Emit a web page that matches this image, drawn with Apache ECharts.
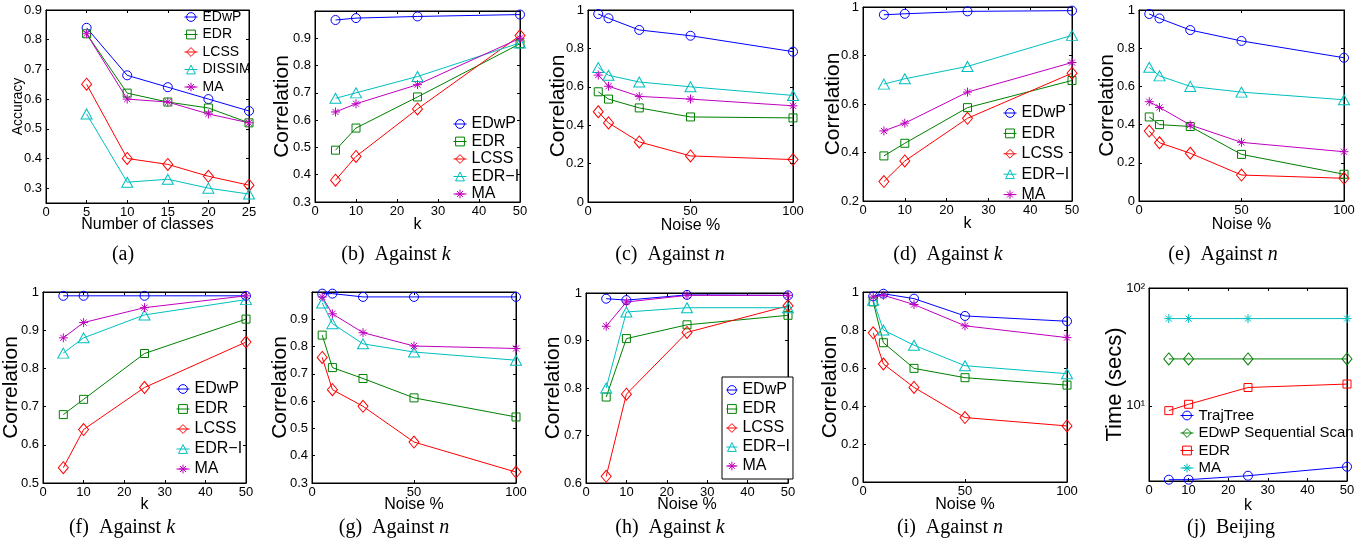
<!DOCTYPE html>
<html><head><meta charset="utf-8">
<script src="https://cdn.jsdelivr.net/npm/echarts@6/dist/echarts.min.js"></script>
<style>html,body{margin:0;padding:0;background:#fff}#c{width:1372px;height:548px}</style>
</head><body><div id="c"></div>
<script>
// ---------- x values ----------
const classCounts = [5, 10, 15, 20, 25];
const kValues = [5, 10, 25, 50];
const noiseValues = [5, 10, 25, 50, 100];

// ---------- tick labels ----------
const ticksX25 = [0, 5, 10, 15, 20, 25];
const ticksX50 = [0, 10, 20, 30, 40, 50];
const ticksX100 = [0, 50, 100];
const ticksYa = [0.3, 0.4, 0.5, 0.6, 0.7, 0.8, 0.9];
const ticksY03 = [0.3, 0.4, 0.5, 0.6, 0.7, 0.8, 0.9];
const ticksY0 = [0, 0.2, 0.4, 0.6, 0.8, 1];
const ticksY02 = [0.2, 0.4, 0.6, 0.8, 1];
const ticksY05 = [0.5, 0.6, 0.7, 0.8, 0.9, 1];
const ticksY06 = [0.6, 0.7, 0.8, 0.9, 1];

// ---------- (a) accuracy vs number of classes ----------
const a_EDwP = [0.84, 0.68, 0.64, 0.60, 0.56];
const a_EDR = [0.82, 0.62, 0.59, 0.57, 0.52];
const a_LCSS = [0.65, 0.40, 0.38, 0.34, 0.31];
const a_DISSIM = [0.55, 0.32, 0.33, 0.30, 0.28];
const a_MA = [0.82, 0.60, 0.59, 0.55, 0.52];
// ---------- (b) ----------
const b_EDwP = [0.967, 0.974, 0.980, 0.987];
const b_EDR = [0.49, 0.571, 0.685, 0.88];
const b_LCSS = [0.38, 0.467, 0.641, 0.91];
const b_EDRI = [0.68, 0.70, 0.76, 0.883];
const b_MA = [0.63, 0.66, 0.73, 0.90];
// ---------- (c) ----------
const c_EDwP = [0.979, 0.957, 0.896, 0.866, 0.783];
const c_EDR = [0.574, 0.536, 0.49, 0.443, 0.438];
const c_LCSS = [0.47, 0.412, 0.313, 0.24, 0.221];
const c_EDRI = [0.70, 0.66, 0.625, 0.60, 0.555];
const c_MA = [0.661, 0.603, 0.55, 0.536, 0.501];
// ---------- (d) ----------
const d_EDwP = [0.968, 0.972, 0.982, 0.985];
const d_EDR = [0.386, 0.438, 0.585, 0.697];
const d_LCSS = [0.28, 0.365, 0.541, 0.727];
const d_EDRI = [0.682, 0.704, 0.755, 0.883];
const d_MA = [0.489, 0.521, 0.649, 0.771];
// ---------- (e) ----------
const e_EDwP = [0.979, 0.956, 0.895, 0.838, 0.75];
const e_EDR = [0.44, 0.40, 0.39, 0.244, 0.14];
const e_LCSS = [0.366, 0.305, 0.25, 0.136, 0.119];
const e_EDRI = [0.70, 0.655, 0.60, 0.57, 0.53];
const e_MA = [0.52, 0.49, 0.398, 0.307, 0.258];
// ---------- (f) ----------
const f_EDwP = [0.99, 0.99, 0.99, 0.99];
const f_EDR = [0.679, 0.719, 0.839, 0.929];
const f_LCSS = [0.54, 0.64, 0.75, 0.869];
const f_EDRI = [0.84, 0.88, 0.94, 0.98];
const f_MA = [0.88, 0.92, 0.959, 0.99];
// ---------- (g) ----------
const g_EDwP = [0.994, 0.994, 0.982, 0.982, 0.982];
const g_EDR = [0.842, 0.723, 0.683, 0.612, 0.542];
const g_LCSS = [0.76, 0.642, 0.581, 0.45, 0.34];
const g_EDRI = [0.96, 0.884, 0.81, 0.78, 0.75];
const g_MA = [0.982, 0.92, 0.851, 0.802, 0.793];
// ---------- (h) ----------
const h_EDwP = [0.988, 0.985, 0.996, 0.995];
const h_EDR = [0.781, 0.904, 0.933, 0.953];
const h_LCSS = [0.614, 0.787, 0.917, 0.973];
const h_EDRI = [0.80, 0.96, 0.969, 0.969];
const h_MA = [0.93, 0.981, 0.995, 0.995];
// ---------- (i) ----------
const i_EDwP = [0.977, 0.991, 0.965, 0.874, 0.846];
const i_EDR = [0.948, 0.733, 0.598, 0.549, 0.51];
const i_LCSS = [0.785, 0.621, 0.498, 0.339, 0.295];
const i_EDRI = [0.956, 0.80, 0.72, 0.612, 0.57];
const i_MA = [0.974, 0.983, 0.934, 0.822, 0.76];
// ---------- (j) time (secs), log scale ----------
const j_TrajTree = [2.36, 2.36, 2.55, 3.04];
const j_EDwPScan = [25, 25, 25, 25];
const j_EDR = [9.1, 10.3, 14.3, 15.3];
const j_MA = [55, 55, 55, 55];

// ---------- styling ----------
const FONT = '"Liberation Sans", Arial, Helvetica, sans-serif';
const SERIF = '"Liberation Serif", "Times New Roman", serif';
const COL = { blue: '#0000ff', green: '#008000', red: '#ff0000', cyan: '#00bfbf', magenta: '#bf00bf' };
const STAR = 'path://M5,0L5,10M0,5L10,5M1.6,1.6L8.4,8.4M1.6,8.4L8.4,1.6';
const SYM = {
  circle: { symbol: 'circle', size: 9 },
  square: { symbol: 'rect', size: 8 },
  diamond: { symbol: 'diamond', size: [10, 12] },
  triangle: { symbol: 'triangle', size: [11, 10] },
  star: { symbol: STAR, size: 9 }
};

const panels = [
  { grid: [46, 10, 249, 203], xr: [0, 25], xt: ticksX25, yr: [0.25, 0.9], yt: ticksYa,
    yName: 'Accuracy', yFs: 14, yGap: 21, xName: 'Number of classes', xGap: 14,
    xs: classCounts,
    ser: [['EDwP', a_EDwP, 'blue', 'circle'], ['EDR', a_EDR, 'green', 'square'], ['LCSS', a_LCSS, 'red', 'diamond'], ['DISSIM', a_DISSIM, 'cyan', 'triangle'], ['MA', a_MA, 'magenta', 'star']] },
  { grid: [315, 11, 520, 202], xr: [0, 50], xt: ticksX50, yr: [0.3, 1.0], yt: ticksY03,
    yName: 'Correlation', yFs: 21, yGap: 22, xName: 'k', xGap: 15, xs: kValues,
    ser: [['EDwP', b_EDwP, 'blue', 'circle'], ['EDR', b_EDR, 'green', 'square'], ['LCSS', b_LCSS, 'red', 'diamond'], ['EDR\u2212I', b_EDRI, 'cyan', 'triangle'], ['MA', b_MA, 'magenta', 'star']] },
  { grid: [588, 10, 793, 202], xr: [0, 100], xt: ticksX100, yr: [0, 1], yt: ticksY0,
    yName: 'Correlation', yFs: 21, yGap: 19, xName: 'Noise %', xGap: 16, xs: noiseValues,
    ser: [['EDwP', c_EDwP, 'blue', 'circle'], ['EDR', c_EDR, 'green', 'square'], ['LCSS', c_LCSS, 'red', 'diamond'], ['EDR\u2212I', c_EDRI, 'cyan', 'triangle'], ['MA', c_MA, 'magenta', 'star']] },
  { grid: [863, 7, 1072, 201], xr: [0, 50], xt: ticksX50, yr: [0.2, 1], yt: ticksY02,
    yName: 'Correlation', yFs: 21, yGap: 19, xName: 'k', xGap: 15, xs: kValues,
    ser: [['EDwP', d_EDwP, 'blue', 'circle'], ['EDR', d_EDR, 'green', 'square'], ['LCSS', d_LCSS, 'red', 'diamond'], ['EDR\u2212I', d_EDRI, 'cyan', 'triangle'], ['MA', d_MA, 'magenta', 'star']] },
  { grid: [1139, 10, 1344, 201], xr: [0, 100], xt: ticksX100, yr: [0, 1], yt: ticksY0,
    yName: 'Correlation', yFs: 21, yGap: 21, xName: 'Noise %', xGap: 16, xs: noiseValues,
    ser: [['EDwP', e_EDwP, 'blue', 'circle'], ['EDR', e_EDR, 'green', 'square'], ['LCSS', e_LCSS, 'red', 'diamond'], ['EDR\u2212I', e_EDRI, 'cyan', 'triangle'], ['MA', e_MA, 'magenta', 'star']] },
  { grid: [42, 292, 246, 483], xr: [0, 50], xt: ticksX50, yr: [0.5, 1], yt: ticksY05,
    yName: 'Correlation', yFs: 21, yGap: 21, xName: 'k', xGap: 14, xs: kValues,
    ser: [['EDwP', f_EDwP, 'blue', 'circle'], ['EDR', f_EDR, 'green', 'square'], ['LCSS', f_LCSS, 'red', 'diamond'], ['EDR\u2212I', f_EDRI, 'cyan', 'triangle'], ['MA', f_MA, 'magenta', 'star']] },
  { grid: [312, 292, 516, 483], xr: [0, 100], xt: ticksX100, yr: [0.3, 1.0], yt: ticksY03,
    yName: 'Correlation', yFs: 21, yGap: 21, xName: 'Noise %', xGap: 14, xs: noiseValues,
    ser: [['EDwP', g_EDwP, 'blue', 'circle'], ['EDR', g_EDR, 'green', 'square'], ['LCSS', g_LCSS, 'red', 'diamond'], ['EDR\u2212I', g_EDRI, 'cyan', 'triangle'], ['MA', g_MA, 'magenta', 'star']] },
  { grid: [586, 293, 788, 483], xr: [0, 50], xt: ticksX50, yr: [0.6, 1], yt: ticksY06,
    yName: 'Correlation', yFs: 21, yGap: 22, xName: 'Noise %', xGap: 14, xs: kValues,
    ser: [['EDwP', h_EDwP, 'blue', 'circle'], ['EDR', h_EDR, 'green', 'square'], ['LCSS', h_LCSS, 'red', 'diamond'], ['EDR\u2212I', h_EDRI, 'cyan', 'triangle'], ['MA', h_MA, 'magenta', 'star']] },
  { grid: [863, 292, 1067, 482], xr: [0, 100], xt: ticksX100, yr: [0, 1], yt: ticksY0,
    yName: 'Correlation', yFs: 21, yGap: 22, xName: 'Noise %', xGap: 15, xs: noiseValues,
    ser: [['EDwP', i_EDwP, 'blue', 'circle'], ['EDR', i_EDR, 'green', 'square'], ['LCSS', i_LCSS, 'red', 'diamond'], ['EDR\u2212I', i_EDRI, 'cyan', 'triangle'], ['MA', i_MA, 'magenta', 'star']] },
  { grid: [1149, 288, 1347, 481], xr: [0, 50], xt: ticksX50, yr: [2.3, 100], log: true,
    yName: 'Time (secs)', yFs: 22, yGap: 23, xName: 'k', xGap: 17, xs: kValues,
    ser: [['TrajTree', j_TrajTree, 'blue', 'circle'], ['EDwP Sequential Scan', j_EDwPScan, 'green', 'diamond'], ['EDR', j_EDR, 'red', 'square'], ['MA', j_MA, 'cyan', 'star']] }
];

const legends = [
  { panel: 0, left: 184, top: 10, fs: 14, gap: 3.5, iw: 13 },
  { panel: 1, left: 453, top: 116, fs: 16, gap: 1.5, iw: 13 },
  { panel: 3, left: 1003, top: 105, fs: 16, gap: 4.4, iw: 13 },
  { panel: 5, left: 176, top: 381, fs: 16, gap: 4, iw: 13 },
  { panel: 7, left: 722, top: 377, fs: 16, gap: 3, iw: 11, boxed: true },
  { panel: 9, left: 1180, top: 408, fs: 15, gap: 2.5, iw: 13 }
];

const captions = [
  [123, 255, '(a)', ''], [396, 255, '(b)  Against ', 'k'], [670, 255, '(c)  Against ', 'n'],
  [948, 255, '(d)  Against ', 'k'], [1223, 255, '(e)  Against ', 'n'],
  [122, 528, '(f)  Against ', 'k'], [394, 528, '(g)  Against ', 'n'], [670, 528, '(h)  Against ', 'k'],
  [950, 528, '(i)  Against ', 'n'], [1231, 528, '(j)  Beijing', '']
];

// ---------- build option ----------
const grid = [], xAxis = [], yAxis = [], series = [];
const tickStyle = { show: true, inside: true, length: 3, lineStyle: { color: '#000', width: 1 } };
const lineSt = { show: true, onZero: false, lineStyle: { color: '#000', width: 1 } };
const lblSt = { color: '#000', fontSize: 13, fontFamily: FONT };

panels.forEach((p, gi) => {
  const [l, t, r, b] = p.grid;
  grid.push({ left: l, top: t, width: r - l, height: b - t, show: true, borderColor: '#000', borderWidth: 1, backgroundColor: 'transparent' });
  const xBase = { type: 'value', gridIndex: gi, min: p.xr[0], max: p.xr[1], splitLine: { show: false }, axisLine: lineSt };
  xAxis.push(Object.assign({}, xBase, {
    position: 'bottom',
    axisTick: Object.assign({}, tickStyle, { customValues: p.xt }),
    axisLabel: Object.assign({}, lblSt, { customValues: p.xt, margin: 3 }),
    name: p.xName, nameLocation: 'middle', nameGap: p.xGap, nameMoveOverlap: false,
    nameTextStyle: { color: '#000', fontSize: 16, fontFamily: FONT }
  }));
  xAxis.push(Object.assign({}, xBase, {
    position: 'top',
    axisTick: Object.assign({}, tickStyle, { customValues: p.xt }),
    axisLabel: { show: false }
  }));
  let yBase, yTick, yLbl;
  if (p.log) {
    yBase = { type: 'log', logBase: 10, gridIndex: gi, min: p.yr[0], max: p.yr[1], splitLine: { show: false }, axisLine: lineSt };
    yTick = Object.assign({}, tickStyle);
    yLbl = Object.assign({}, lblSt, {
      margin: 4,
      formatter: v => Math.abs(v - 10) < 1e-6 ? '10\u00b9' : (Math.abs(v - 100) < 1e-6 ? '10\u00b2' : '')
    });
  } else {
    yBase = { type: 'value', gridIndex: gi, min: p.yr[0], max: p.yr[1], splitLine: { show: false }, axisLine: lineSt };
    yTick = Object.assign({}, tickStyle, { customValues: p.yt });
    yLbl = Object.assign({}, lblSt, { customValues: p.yt, margin: 4 });
  }
  yAxis.push(Object.assign({}, yBase, {
    position: 'left', axisTick: yTick, axisLabel: yLbl,
    name: p.yName, nameLocation: 'middle', nameRotate: 90, nameGap: p.yGap, nameMoveOverlap: false,
    nameTextStyle: { color: '#000', fontSize: p.yFs, fontFamily: FONT }
  }));
  yAxis.push(Object.assign({}, yBase, { position: 'right', axisTick: yTick, axisLabel: { show: false } }));

  p.ser.forEach(([name, vals, colKey, shape]) => {
    const c = COL[colKey];
    series.push({
      type: 'line', name, xAxisIndex: 2 * gi, yAxisIndex: 2 * gi,
      data: p.xs.map((x, i) => [x, vals[i]]),
      symbol: SYM[shape].symbol, symbolSize: SYM[shape].size, showSymbol: true, showAllSymbol: true,
      itemStyle: { color: 'none', borderColor: c, borderWidth: 1 },
      lineStyle: { color: c, width: 1 },
      emphasis: { disabled: true }, silent: true, clip: false, animation: false
    });
  });
});

const legend = legends.map(L => {
  const p = panels[L.panel];
  return {
    orient: 'vertical', left: L.left, top: L.top, itemWidth: L.iw, itemHeight: 11, itemGap: L.gap,
    padding: L.boxed ? [5, 3, 5, 3] : 0, selectedMode: false,
    backgroundColor: L.boxed ? '#fff' : 'transparent',
    borderColor: '#000', borderWidth: L.boxed ? 1 : 0, borderRadius: 0,
    textStyle: { color: '#000', fontSize: L.fs, fontFamily: FONT },
    data: p.ser.map(([name, vals, colKey]) => ({
      name,
      itemStyle: { color: 'none', borderColor: COL[colKey], borderWidth: 1 },
      lineStyle: { color: COL[colKey], width: 1 }
    }))
  };
});

const graphic = captions.map(([x, y, txt, it]) => ({
  type: 'text', x, y, silent: true,
  style: {
    text: txt + (it ? '{i|' + it + '}' : ''),
    rich: { i: { fontFamily: SERIF, fontSize: 20, fontStyle: 'italic', fill: '#000' } },
    font: '20px ' + SERIF, fill: '#000', textAlign: 'center', textVerticalAlign: 'middle'
  }
}));

const chart = echarts.init(document.getElementById('c'), null, { renderer: 'canvas' });
chart.setOption({ animation: false, backgroundColor: '#fff', grid, xAxis, yAxis, series, legend, graphic });
</script></body></html>
